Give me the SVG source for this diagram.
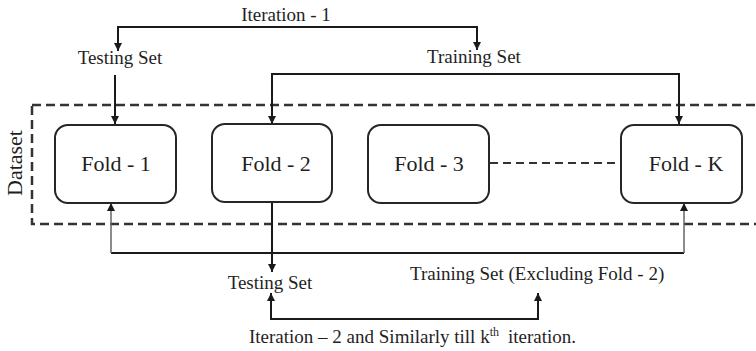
<svg xmlns="http://www.w3.org/2000/svg" width="756" height="351" viewBox="0 0 756 351">
  <defs>
    <marker id="arr" viewBox="0 0 10 10" refX="10" refY="5" markerWidth="8" markerHeight="8" markerUnits="userSpaceOnUse" orient="auto-start-reverse">
      <path d="M0,0 L10,5 L0,10 Z" fill="#1a1a1a"/>
    </marker>
    <style>
      text { font-family: "Liberation Serif", "Times New Roman", serif; fill: #1f1f1f; }
      .lbl { font-size: 19px; }
      .fold-txt { font-size: 22px; text-anchor: middle; }
      .fold { fill: #ffffff; stroke: #262626; stroke-width: 2; }
      .wire { fill: none; stroke: #1a1a1a; stroke-width: 2; }
      .thin { fill: none; stroke: #666666; stroke-width: 1.5; }
      .dash { fill: none; stroke: #333333; stroke-width: 2.5; stroke-dasharray: 9 5; }
    </style>
  </defs>

  <!-- dataset boundary -->
  <g id="dataset">
    <rect x="32" y="105" width="740" height="119" class="dash"/>
    <text transform="translate(22,163) rotate(-90)" class="fold-txt">Dataset</text>
  </g>

  <!-- labels -->
  <g id="labels">
    <text x="286" y="21" class="lbl" text-anchor="middle">Iteration - 1</text>
    <text x="120" y="64" class="lbl" text-anchor="middle">Testing Set</text>
    <text x="474" y="63" class="lbl" text-anchor="middle">Training Set</text>
    <text x="270" y="289" class="lbl" text-anchor="middle">Testing Set</text>
    <text x="410" y="280" class="lbl">Training Set (Excluding Fold - 2)</text>
    <text x="249" y="343" class="lbl">Iteration – 2 and Similarly till k<tspan font-size="12" dy="-7">th</tspan><tspan dx="9" dy="7">iteration.</tspan></text>
  </g>

  <!-- connectors -->
  <g id="connectors">
    <!-- iteration 1 split -->
    <path d="M118,51 V27 H477 V50" class="wire" marker-start="url(#arr)" marker-end="url(#arr)"/>
    <path d="M115,75 V124" class="wire" marker-end="url(#arr)"/>
    <path d="M272,124 V74 H679 V124" class="wire" marker-start="url(#arr)" marker-end="url(#arr)"/>
    <!-- fold chain -->
    <path d="M490,163 H620" fill="none" stroke="#333333" stroke-width="2" stroke-dasharray="8 5"/>
    <!-- iteration 2 -->
    <path d="M272,202 V272" class="wire" marker-end="url(#arr)"/>
    <path d="M111,253 H684" class="wire"/>
    <path d="M111,253 V203" class="thin" marker-end="url(#arr)"/>
    <path d="M684,253 V203" class="thin" marker-end="url(#arr)"/>
    <path d="M271,293 V319 H538 V293" class="wire" marker-start="url(#arr)" marker-end="url(#arr)"/>
  </g>

  <!-- folds -->
  <g id="fold-1">
    <rect x="55" y="125" width="121" height="78" rx="13" class="fold"/>
    <text x="116" y="171" class="fold-txt">Fold - 1</text>
  </g>
  <g id="fold-2">
    <rect x="212" y="124" width="120" height="78" rx="13" class="fold"/>
    <text x="276" y="171" class="fold-txt">Fold - 2</text>
  </g>
  <g id="fold-3">
    <rect x="368" y="125" width="121" height="78" rx="13" class="fold"/>
    <text x="429" y="171" class="fold-txt">Fold - 3</text>
  </g>
  <g id="fold-k">
    <rect x="621" y="125" width="121" height="78" rx="13" class="fold"/>
    <text x="686" y="171" class="fold-txt">Fold - K</text>
  </g>
</svg>
